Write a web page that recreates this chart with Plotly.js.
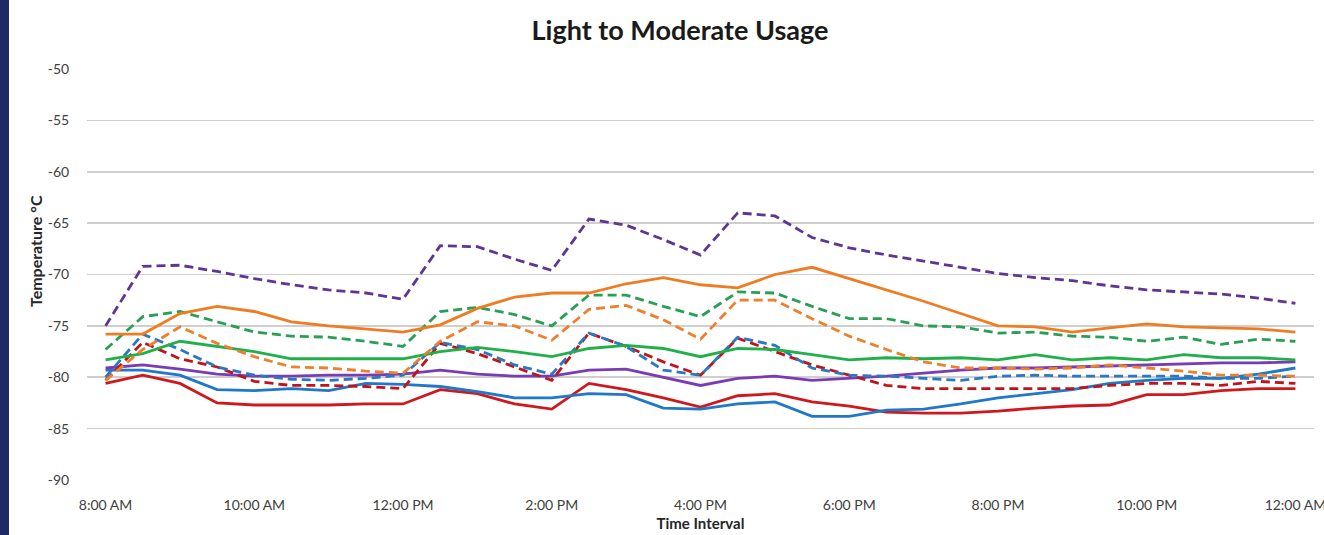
<!DOCTYPE html>
<html>
<head>
<meta charset="utf-8">
<script src="https://cdn.plot.ly/plotly-3.0.1.min.js"></script>
<style>
html,body{margin:0;padding:0;background:#fff;}
#chart{width:1324px;height:535px;}
#band{position:absolute;left:0;top:0;width:9px;height:535px;background:#1c2a66;}
</style>
</head>
<body>
<div id="chart"></div>
<div id="band"></div>
<script>
const times = ["8:00 AM","8:30 AM","9:00 AM","9:30 AM","10:00 AM","10:30 AM","11:00 AM","11:30 AM",
  "12:00 PM","12:30 PM","1:00 PM","1:30 PM","2:00 PM","2:30 PM","3:00 PM","3:30 PM",
  "4:00 PM","4:30 PM","5:00 PM","5:30 PM","6:00 PM","6:30 PM","7:00 PM","7:30 PM",
  "8:00 PM","8:30 PM","9:00 PM","9:30 PM","10:00 PM","10:30 PM","11:00 PM","11:30 PM","12:00 AM"];
const tickLabels = ["8:00 AM","10:00 AM","12:00 PM","2:00 PM","4:00 PM","6:00 PM","8:00 PM","10:00 PM","12:00 AM"];
const yTicks = [-50,-55,-60,-65,-70,-75,-80,-85,-90];

const purpleDashed = [-75.0,-69.2,-69.1,-69.7,-70.4,-71.0,-71.5,-71.8,-72.4,-67.2,-67.3,-68.5,-69.6,-64.6,-65.2,-66.6,-68.1,-64.0,-64.3,-66.4,-67.4,-68.1,-68.7,-69.3,-69.9,-70.3,-70.6,-71.1,-71.5,-71.7,-71.9,-72.3,-72.8];
const orangeSolid = [-75.8,-75.8,-73.8,-73.1,-73.6,-74.6,-75.0,-75.3,-75.6,-74.9,-73.3,-72.2,-71.8,-71.8,-70.9,-70.3,-71.0,-71.3,-70.0,-69.3,-70.4,-71.5,-72.6,-73.8,-75.0,-75.1,-75.6,-75.2,-74.8,-75.1,-75.2,-75.3,-75.6];
const greenDashed = [-77.3,-74.1,-73.6,-74.6,-75.6,-76.0,-76.1,-76.5,-77.0,-73.6,-73.2,-73.9,-75.0,-72.0,-72.0,-73.1,-74.1,-71.7,-71.8,-73.1,-74.3,-74.3,-75.0,-75.1,-75.7,-75.6,-76.0,-76.1,-76.5,-76.1,-76.8,-76.3,-76.5];
const orangeDashed = [-80.3,-77.3,-75.1,-76.7,-78.0,-79.0,-79.1,-79.4,-79.6,-76.5,-74.6,-75.0,-76.4,-73.4,-73.0,-74.4,-76.3,-72.5,-72.5,-74.3,-76.0,-77.3,-78.5,-79.1,-79.1,-79.2,-79.1,-78.8,-79.1,-79.4,-79.8,-79.8,-79.9];
const greenSolid = [-78.3,-77.7,-76.5,-77.0,-77.5,-78.2,-78.2,-78.2,-78.2,-77.5,-77.1,-77.5,-78.0,-77.2,-76.9,-77.2,-78.0,-77.2,-77.3,-77.8,-78.3,-78.1,-78.2,-78.1,-78.3,-77.8,-78.3,-78.1,-78.3,-77.8,-78.1,-78.1,-78.3];
const blueDashed = [-80.0,-75.8,-77.3,-79.0,-79.8,-80.2,-80.3,-80.1,-79.8,-76.6,-77.3,-78.8,-79.7,-75.7,-77.0,-79.3,-79.8,-76.1,-76.9,-79.1,-79.8,-79.9,-80.1,-80.3,-79.9,-79.8,-79.9,-79.9,-79.9,-79.9,-80.1,-80.1,-79.9];
const redDashed = [-80.3,-76.6,-78.2,-79.0,-80.4,-80.8,-80.8,-80.9,-81.1,-76.7,-77.7,-79.0,-80.3,-75.7,-77.0,-78.5,-79.8,-76.2,-77.5,-78.8,-79.8,-80.8,-81.1,-81.1,-81.1,-81.1,-81.1,-80.8,-80.6,-80.6,-80.8,-80.4,-80.6];
const purpleSolid = [-79.1,-78.8,-79.2,-79.7,-79.9,-79.9,-79.8,-79.8,-79.7,-79.3,-79.7,-79.9,-79.9,-79.3,-79.2,-80.0,-80.8,-80.1,-79.9,-80.3,-80.1,-79.9,-79.6,-79.3,-79.1,-79.1,-79.0,-78.9,-78.8,-78.7,-78.6,-78.6,-78.5];
const blueSolid = [-79.3,-79.3,-79.8,-81.2,-81.3,-81.1,-81.3,-80.6,-80.7,-80.9,-81.4,-82.0,-82.0,-81.6,-81.7,-83.0,-83.1,-82.6,-82.4,-83.8,-83.8,-83.2,-83.1,-82.6,-82.0,-81.6,-81.2,-80.6,-80.3,-80.1,-80.1,-79.7,-79.1];
const redSolid = [-80.6,-79.8,-80.6,-82.5,-82.7,-82.7,-82.7,-82.6,-82.6,-81.2,-81.6,-82.6,-83.1,-80.6,-81.2,-82.0,-82.9,-81.8,-81.6,-82.4,-82.8,-83.4,-83.5,-83.5,-83.3,-83.0,-82.8,-82.7,-81.7,-81.7,-81.3,-81.1,-81.1];

const DASH = "9px,5px";
function line(y, color, dashed){
  return {x: times, y: y, type: 'scatter', mode: 'lines',
    line: {color: color, width: 2.8, dash: dashed ? DASH : 'solid'},
    hoverinfo: 'skip'};
}
const traces = [
  line(redSolid, '#d0181c', false),
  line(blueSolid, '#1f78c8', false),
  line(purpleSolid, '#7a3cb4', false),
  line(redDashed, '#c0141c', true),
  line(blueDashed, '#2a78c0', true),
  line(greenSolid, '#1fb04a', false),
  line(orangeDashed, '#ee7f2d', true),
  line(greenDashed, '#27a055', true),
  line(orangeSolid, '#f07c22', false),
  line(purpleDashed, '#5e3593', true)
];

const layout = {
  width: 1324, height: 535,
  margin: {l: 87, r: 10, t: 69, b: 55, pad: 0},
  paper_bgcolor: '#ffffff', plot_bgcolor: '#ffffff',
  showlegend: false,
  font: {family: 'Lato, "Open Sans", sans-serif', color: '#404040', size: 14},
  title: {text: '<b>Light to Moderate Usage</b>', x: 0.4833, xref: 'paper', xanchor: 'center',
    y: 0.942, yref: 'container', yanchor: 'middle',
    font: {family: 'Lato, "Open Sans", sans-serif', size: 27, color: '#1a1a1a'}},
  xaxis: {
    type: 'category', range: [-0.5, 32.5],
    tickmode: 'array', tickvals: tickLabels, ticktext: tickLabels,
    showgrid: false, zeroline: false, showline: false,
    ticks: 'outside', ticklen: 12, tickcolor: 'rgba(0,0,0,0)',
    tickfont: {size: 14, color: '#404040'},
    title: {text: '<b>Time Interval</b>', standoff: 6, font: {size: 15, color: '#262626'}}
  },
  yaxis: {
    range: [-90, -50], tickmode: 'array', tickvals: yTicks, ticktext: yTicks.map(String),
    showgrid: true, gridcolor: '#cfcfcf', gridwidth: 1.6,
    zeroline: false, showline: false,
    ticks: 'outside', ticklen: 14, tickcolor: 'rgba(0,0,0,0)',
    tickfont: {size: 14, color: '#404040'}
  },
  annotations: [{
    text: '<b>Temperature °C</b>', textangle: -90,
    xref: 'paper', yref: 'paper',
    x: (35 - 87) / 1227, y: (480 - 251) / 411,
    xanchor: 'center', yanchor: 'middle', showarrow: false,
    font: {size: 16, color: '#262626'}
  }]
};

Plotly.newPlot('chart', traces, layout, {displayModeBar: false, staticPlot: true});
</script>
</body>
</html>
